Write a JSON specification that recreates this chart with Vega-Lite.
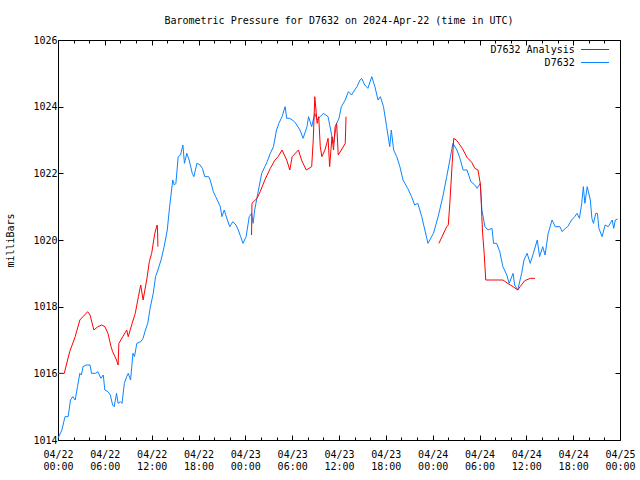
{
  "$schema": "https://vega.github.io/schema/vega-lite/v6.json",
  "autosize": "none",
  "width": 562,
  "height": 400,
  "padding": {"left": 58, "top": 40, "right": 20, "bottom": 40},
  "background": "white",
  "config": {
    "font": "DejaVu Sans Mono",
    "view": {"stroke": "black", "strokeWidth": 1},
    "axis": {"domain": false, "grid": false, "labelFont": "DejaVu Sans Mono", "labelFontSize": 10, "labelColor": "black", "tickColor": "black", "titleFont": "DejaVu Sans Mono", "titleFontSize": 10, "titleFontWeight": "normal", "titleColor": "black"}
  },
  "title": {"text": "Barometric Pressure for D7632 on 2024-Apr-22 (time in UTC)", "font": "DejaVu Sans Mono", "fontSize": 10, "fontWeight": "normal", "color": "black", "anchor": "middle", "offset": 9},
  "datasets": {
    "key": [{"s": "D7632 Analysis"}, {"s": "D7632"}],
    "obs": [
      {"s":"D7632","g":0,"h":0,"p":1014.05},{"s":"D7632","g":0,"h":0.5,"p":1014.3},{"s":"D7632","g":0,"h":0.9,"p":1014.7},{"s":"D7632","g":0,"h":1.3,"p":1014.7},{"s":"D7632","g":0,"h":1.6,"p":1015.2},{"s":"D7632","g":0,"h":1.9,"p":1015.3},{"s":"D7632","g":0,"h":2.2,"p":1015.2},{"s":"D7632","g":0,"h":2.5,"p":1015.6},{"s":"D7632","g":0,"h":2.8,"p":1016.0},{"s":"D7632","g":0,"h":3.0,"p":1015.95},{"s":"D7632","g":0,"h":3.2,"p":1016.2},{"s":"D7632","g":0,"h":3.6,"p":1016.25},{"s":"D7632","g":0,"h":4.1,"p":1016.25},{"s":"D7632","g":0,"h":4.3,"p":1016.0},{"s":"D7632","g":0,"h":4.8,"p":1016.0},{"s":"D7632","g":0,"h":5.1,"p":1016.05},{"s":"D7632","g":0,"h":5.5,"p":1015.85},{"s":"D7632","g":0,"h":5.8,"p":1015.95},{"s":"D7632","g":0,"h":6.0,"p":1015.5},{"s":"D7632","g":0,"h":6.4,"p":1015.45},{"s":"D7632","g":0,"h":6.7,"p":1015.35},{"s":"D7632","g":0,"h":7.0,"p":1015.05},{"s":"D7632","g":0,"h":7.2,"p":1015.0},{"s":"D7632","g":0,"h":7.5,"p":1015.4},{"s":"D7632","g":0,"h":7.7,"p":1015.1},{"s":"D7632","g":0,"h":8.0,"p":1015.15},{"s":"D7632","g":0,"h":8.2,"p":1015.1},{"s":"D7632","g":0,"h":8.5,"p":1015.7},{"s":"D7632","g":0,"h":8.8,"p":1015.9},{"s":"D7632","g":0,"h":9.0,"p":1016.0},{"s":"D7632","g":0,"h":9.3,"p":1015.8},{"s":"D7632","g":0,"h":9.6,"p":1016.6},{"s":"D7632","g":0,"h":9.8,"p":1016.5},{"s":"D7632","g":0,"h":10.1,"p":1016.9},{"s":"D7632","g":0,"h":10.6,"p":1016.95},{"s":"D7632","g":0,"h":10.9,"p":1017.05},{"s":"D7632","g":0,"h":11.2,"p":1017.3},{"s":"D7632","g":0,"h":11.5,"p":1017.5},{"s":"D7632","g":0,"h":11.8,"p":1017.95},{"s":"D7632","g":0,"h":12.2,"p":1018.4},{"s":"D7632","g":0,"h":12.5,"p":1018.9},{"s":"D7632","g":0,"h":12.8,"p":1019.1},{"s":"D7632","g":0,"h":13.2,"p":1019.4},{"s":"D7632","g":0,"h":13.6,"p":1019.8},{"s":"D7632","g":0,"h":14.0,"p":1020.3},{"s":"D7632","g":0,"h":14.3,"p":1021.0},{"s":"D7632","g":0,"h":14.7,"p":1021.8},{"s":"D7632","g":0,"h":14.9,"p":1021.65},{"s":"D7632","g":0,"h":15.1,"p":1021.7},{"s":"D7632","g":0,"h":15.4,"p":1022.5},{"s":"D7632","g":0,"h":15.7,"p":1022.55},{"s":"D7632","g":0,"h":15.9,"p":1022.75},{"s":"D7632","g":0,"h":16.0,"p":1022.85},{"s":"D7632","g":0,"h":16.2,"p":1022.3},{"s":"D7632","g":0,"h":16.5,"p":1022.6},{"s":"D7632","g":0,"h":16.8,"p":1022.4},{"s":"D7632","g":0,"h":17.2,"p":1022.0},{"s":"D7632","g":0,"h":17.4,"p":1021.9},{"s":"D7632","g":0,"h":17.8,"p":1022.3},{"s":"D7632","g":0,"h":18.2,"p":1022.25},{"s":"D7632","g":0,"h":18.5,"p":1022.15},{"s":"D7632","g":0,"h":18.8,"p":1021.9},{"s":"D7632","g":0,"h":19.3,"p":1021.9},{"s":"D7632","g":0,"h":19.5,"p":1021.8},{"s":"D7632","g":0,"h":19.9,"p":1021.45},{"s":"D7632","g":0,"h":20.2,"p":1021.3},{"s":"D7632","g":0,"h":20.4,"p":1021.2},{"s":"D7632","g":0,"h":20.8,"p":1021.0},{"s":"D7632","g":0,"h":21.0,"p":1020.7},{"s":"D7632","g":0,"h":21.3,"p":1020.9},{"s":"D7632","g":0,"h":21.7,"p":1020.6},{"s":"D7632","g":0,"h":22.0,"p":1020.4},{"s":"D7632","g":0,"h":22.4,"p":1020.55},{"s":"D7632","g":0,"h":22.8,"p":1020.45},{"s":"D7632","g":0,"h":23.1,"p":1020.3},{"s":"D7632","g":0,"h":23.4,"p":1020.1},{"s":"D7632","g":0,"h":23.7,"p":1019.9},{"s":"D7632","g":0,"h":24.1,"p":1020.1},{"s":"D7632","g":0,"h":24.5,"p":1020.7},{"s":"D7632","g":0,"h":24.8,"p":1020.8},{"s":"D7632","g":0,"h":25.0,"p":1020.5},{"s":"D7632","g":0,"h":25.2,"p":1020.9},{"s":"D7632","g":0,"h":25.6,"p":1021.4},{"s":"D7632","g":0,"h":26.1,"p":1022.0},{"s":"D7632","g":0,"h":26.5,"p":1022.2},{"s":"D7632","g":0,"h":26.8,"p":1022.35},{"s":"D7632","g":0,"h":27.2,"p":1022.6},{"s":"D7632","g":0,"h":27.6,"p":1022.8},{"s":"D7632","g":0,"h":28.0,"p":1023.3},{"s":"D7632","g":0,"h":28.3,"p":1023.5},{"s":"D7632","g":0,"h":28.7,"p":1023.7},{"s":"D7632","g":0,"h":29.1,"p":1024.0},{"s":"D7632","g":0,"h":29.3,"p":1023.65},{"s":"D7632","g":0,"h":29.7,"p":1023.65},{"s":"D7632","g":0,"h":30.0,"p":1023.6},{"s":"D7632","g":0,"h":30.3,"p":1023.55},{"s":"D7632","g":0,"h":30.6,"p":1023.45},{"s":"D7632","g":0,"h":31.0,"p":1023.3},{"s":"D7632","g":0,"h":31.4,"p":1023.05},{"s":"D7632","g":0,"h":31.9,"p":1023.4},{"s":"D7632","g":0,"h":32.1,"p":1023.7},{"s":"D7632","g":0,"h":32.5,"p":1023.4},{"s":"D7632","g":0,"h":32.9,"p":1023.8},{"s":"D7632","g":0,"h":33.2,"p":1023.6},{"s":"D7632","g":0,"h":33.6,"p":1023.7},{"s":"D7632","g":0,"h":34.0,"p":1023.8},{"s":"D7632","g":0,"h":34.6,"p":1023.7},{"s":"D7632","g":0,"h":35.1,"p":1023.1},{"s":"D7632","g":0,"h":35.3,"p":1022.9},{"s":"D7632","g":0,"h":35.7,"p":1023.5},{"s":"D7632","g":0,"h":36.0,"p":1023.65},{"s":"D7632","g":0,"h":36.3,"p":1024.0},{"s":"D7632","g":0,"h":36.8,"p":1024.2},{"s":"D7632","g":0,"h":37.2,"p":1024.45},{"s":"D7632","g":0,"h":37.6,"p":1024.35},{"s":"D7632","g":0,"h":38.0,"p":1024.5},{"s":"D7632","g":0,"h":38.3,"p":1024.6},{"s":"D7632","g":0,"h":38.7,"p":1024.8},{"s":"D7632","g":0,"h":38.9,"p":1024.85},{"s":"D7632","g":0,"h":39.3,"p":1024.65},{"s":"D7632","g":0,"h":39.7,"p":1024.55},{"s":"D7632","g":0,"h":40.2,"p":1024.9},{"s":"D7632","g":0,"h":40.6,"p":1024.6},{"s":"D7632","g":0,"h":41.0,"p":1024.2},{"s":"D7632","g":0,"h":41.3,"p":1024.3},{"s":"D7632","g":0,"h":41.7,"p":1024.0},{"s":"D7632","g":0,"h":42.1,"p":1023.4},{"s":"D7632","g":0,"h":42.5,"p":1022.8},{"s":"D7632","g":0,"h":42.7,"p":1023.3},{"s":"D7632","g":0,"h":43.0,"p":1022.7},{"s":"D7632","g":0,"h":43.4,"p":1022.5},{"s":"D7632","g":0,"h":43.8,"p":1022.2},{"s":"D7632","g":0,"h":44.2,"p":1021.8},{"s":"D7632","g":0,"h":44.8,"p":1021.55},{"s":"D7632","g":0,"h":45.3,"p":1021.3},{"s":"D7632","g":0,"h":45.7,"p":1021.05},{"s":"D7632","g":0,"h":46.1,"p":1021.1},{"s":"D7632","g":0,"h":46.6,"p":1020.7},{"s":"D7632","g":0,"h":47.0,"p":1020.3},{"s":"D7632","g":0,"h":47.4,"p":1019.9},{"s":"D7632","g":0,"h":48.1,"p":1020.2},{"s":"D7632","g":0,"h":48.7,"p":1020.7},{"s":"D7632","g":0,"h":49.3,"p":1021.3},{"s":"D7632","g":0,"h":49.8,"p":1021.9},{"s":"D7632","g":0,"h":50.2,"p":1022.4},{"s":"D7632","g":0,"h":50.6,"p":1022.9},{"s":"D7632","g":0,"h":51.1,"p":1022.7},{"s":"D7632","g":0,"h":51.5,"p":1022.45},{"s":"D7632","g":0,"h":51.9,"p":1022.1},{"s":"D7632","g":0,"h":52.4,"p":1022.1},{"s":"D7632","g":0,"h":52.9,"p":1021.75},{"s":"D7632","g":0,"h":53.4,"p":1021.65},{"s":"D7632","g":0,"h":53.7,"p":1021.55},{"s":"D7632","g":0,"h":54.1,"p":1021.7},{"s":"D7632","g":0,"h":54.2,"p":1021.3},{"s":"D7632","g":0,"h":54.3,"p":1020.9},{"s":"D7632","g":0,"h":54.7,"p":1020.4},{"s":"D7632","g":0,"h":55.1,"p":1020.3},{"s":"D7632","g":0,"h":55.6,"p":1020.35},{"s":"D7632","g":0,"h":55.8,"p":1019.9},{"s":"D7632","g":0,"h":56.2,"p":1019.9},{"s":"D7632","g":0,"h":56.6,"p":1019.65},{"s":"D7632","g":0,"h":57.0,"p":1019.2},{"s":"D7632","g":0,"h":57.5,"p":1018.95},{"s":"D7632","g":0,"h":57.8,"p":1018.7},{"s":"D7632","g":0,"h":58.3,"p":1019.0},{"s":"D7632","g":0,"h":58.5,"p":1018.65},{"s":"D7632","g":0,"h":58.9,"p":1018.5},{"s":"D7632","g":0,"h":59.4,"p":1019.0},{"s":"D7632","g":0,"h":59.7,"p":1019.4},{"s":"D7632","g":0,"h":60.1,"p":1019.6},{"s":"D7632","g":0,"h":60.5,"p":1019.3},{"s":"D7632","g":0,"h":60.9,"p":1019.6},{"s":"D7632","g":0,"h":61.4,"p":1020.0},{"s":"D7632","g":0,"h":61.7,"p":1019.5},{"s":"D7632","g":0,"h":62.1,"p":1019.8},{"s":"D7632","g":0,"h":62.4,"p":1019.55},{"s":"D7632","g":0,"h":62.8,"p":1020.2},{"s":"D7632","g":0,"h":63.3,"p":1020.6},{"s":"D7632","g":0,"h":63.7,"p":1020.4},{"s":"D7632","g":0,"h":64.3,"p":1020.4},{"s":"D7632","g":0,"h":64.6,"p":1020.25},{"s":"D7632","g":0,"h":65.0,"p":1020.35},{"s":"D7632","g":0,"h":65.3,"p":1020.4},{"s":"D7632","g":0,"h":65.8,"p":1020.6},{"s":"D7632","g":0,"h":66.2,"p":1020.7},{"s":"D7632","g":0,"h":66.5,"p":1020.8},{"s":"D7632","g":0,"h":66.8,"p":1020.65},{"s":"D7632","g":0,"h":67.1,"p":1021.1},{"s":"D7632","g":0,"h":67.3,"p":1021.6},{"s":"D7632","g":0,"h":67.5,"p":1021.1},{"s":"D7632","g":0,"h":67.8,"p":1021.6},{"s":"D7632","g":0,"h":68.2,"p":1021.2},{"s":"D7632","g":0,"h":68.4,"p":1020.65},{"s":"D7632","g":0,"h":68.6,"p":1020.5},{"s":"D7632","g":0,"h":68.9,"p":1020.8},{"s":"D7632","g":0,"h":69.1,"p":1020.8},{"s":"D7632","g":0,"h":69.3,"p":1020.35},{"s":"D7632","g":0,"h":69.7,"p":1020.1},{"s":"D7632","g":0,"h":70.1,"p":1020.45},{"s":"D7632","g":0,"h":70.5,"p":1020.4},{"s":"D7632","g":0,"h":71.0,"p":1020.6},{"s":"D7632","g":0,"h":71.2,"p":1020.35},{"s":"D7632","g":0,"h":71.4,"p":1020.6},{"s":"D7632","g":0,"h":71.7,"p":1020.63},
      {"s":"D7632 Analysis","g":1,"h":0,"p":1016.0},{"s":"D7632 Analysis","g":1,"h":0.8,"p":1016.0},{"s":"D7632 Analysis","g":1,"h":1.5,"p":1016.65},{"s":"D7632 Analysis","g":1,"h":2.2,"p":1017.1},{"s":"D7632 Analysis","g":1,"h":2.8,"p":1017.6},{"s":"D7632 Analysis","g":1,"h":3.2,"p":1017.7},{"s":"D7632 Analysis","g":1,"h":3.8,"p":1017.85},{"s":"D7632 Analysis","g":1,"h":4.1,"p":1017.75},{"s":"D7632 Analysis","g":1,"h":4.6,"p":1017.3},{"s":"D7632 Analysis","g":1,"h":5.1,"p":1017.4},{"s":"D7632 Analysis","g":1,"h":5.6,"p":1017.45},{"s":"D7632 Analysis","g":1,"h":6.0,"p":1017.4},{"s":"D7632 Analysis","g":1,"h":6.4,"p":1017.2},{"s":"D7632 Analysis","g":1,"h":6.8,"p":1016.8},{"s":"D7632 Analysis","g":1,"h":7.0,"p":1016.65},{"s":"D7632 Analysis","g":1,"h":7.5,"p":1016.4},{"s":"D7632 Analysis","g":1,"h":7.7,"p":1016.25},{"s":"D7632 Analysis","g":1,"h":7.8,"p":1016.9},{"s":"D7632 Analysis","g":1,"h":8.3,"p":1017.1},{"s":"D7632 Analysis","g":1,"h":8.8,"p":1017.3},{"s":"D7632 Analysis","g":1,"h":9.0,"p":1017.1},{"s":"D7632 Analysis","g":1,"h":9.5,"p":1017.5},{"s":"D7632 Analysis","g":1,"h":9.9,"p":1017.8},{"s":"D7632 Analysis","g":1,"h":10.3,"p":1018.3},{"s":"D7632 Analysis","g":1,"h":10.6,"p":1018.65},{"s":"D7632 Analysis","g":1,"h":10.9,"p":1018.2},{"s":"D7632 Analysis","g":1,"h":11.4,"p":1018.85},{"s":"D7632 Analysis","g":1,"h":11.7,"p":1019.35},{"s":"D7632 Analysis","g":1,"h":12.0,"p":1019.6},{"s":"D7632 Analysis","g":1,"h":12.4,"p":1020.2},{"s":"D7632 Analysis","g":1,"h":12.7,"p":1020.45},{"s":"D7632 Analysis","g":1,"h":12.75,"p":1020.3},{"s":"D7632 Analysis","g":1,"h":12.8,"p":1019.8},
      {"s":"D7632 Analysis","g":2,"h":24.8,"p":1020.15},{"s":"D7632 Analysis","g":2,"h":24.85,"p":1021.1},{"s":"D7632 Analysis","g":2,"h":25.5,"p":1021.25},{"s":"D7632 Analysis","g":2,"h":25.9,"p":1021.45},{"s":"D7632 Analysis","g":2,"h":26.5,"p":1021.8},{"s":"D7632 Analysis","g":2,"h":27.2,"p":1022.15},{"s":"D7632 Analysis","g":2,"h":27.8,"p":1022.4},{"s":"D7632 Analysis","g":2,"h":28.2,"p":1022.5},{"s":"D7632 Analysis","g":2,"h":28.7,"p":1022.7},{"s":"D7632 Analysis","g":2,"h":29.3,"p":1022.4},{"s":"D7632 Analysis","g":2,"h":29.7,"p":1022.1},{"s":"D7632 Analysis","g":2,"h":30.0,"p":1022.5},{"s":"D7632 Analysis","g":2,"h":30.8,"p":1022.7},{"s":"D7632 Analysis","g":2,"h":31.2,"p":1022.4},{"s":"D7632 Analysis","g":2,"h":31.8,"p":1022.1},{"s":"D7632 Analysis","g":2,"h":32.5,"p":1022.2},{"s":"D7632 Analysis","g":2,"h":32.7,"p":1023.0},{"s":"D7632 Analysis","g":2,"h":32.9,"p":1024.3},{"s":"D7632 Analysis","g":2,"h":33.2,"p":1023.5},{"s":"D7632 Analysis","g":2,"h":33.4,"p":1023.7},{"s":"D7632 Analysis","g":2,"h":33.6,"p":1022.8},{"s":"D7632 Analysis","g":2,"h":33.8,"p":1022.5},{"s":"D7632 Analysis","g":2,"h":34.2,"p":1022.7},{"s":"D7632 Analysis","g":2,"h":34.6,"p":1023.05},{"s":"D7632 Analysis","g":2,"h":34.8,"p":1022.2},{"s":"D7632 Analysis","g":2,"h":35.1,"p":1023.1},{"s":"D7632 Analysis","g":2,"h":35.3,"p":1022.7},{"s":"D7632 Analysis","g":2,"h":35.5,"p":1023.4},{"s":"D7632 Analysis","g":2,"h":35.7,"p":1023.5},{"s":"D7632 Analysis","g":2,"h":35.9,"p":1022.55},{"s":"D7632 Analysis","g":2,"h":36.3,"p":1022.7},{"s":"D7632 Analysis","g":2,"h":36.8,"p":1022.9},{"s":"D7632 Analysis","g":2,"h":36.9,"p":1023.7},
      {"s":"D7632 Analysis","g":3,"h":48.8,"p":1019.9},{"s":"D7632 Analysis","g":3,"h":49.3,"p":1020.15},{"s":"D7632 Analysis","g":3,"h":49.8,"p":1020.4},{"s":"D7632 Analysis","g":3,"h":50.0,"p":1020.45},{"s":"D7632 Analysis","g":3,"h":50.2,"p":1021.1},{"s":"D7632 Analysis","g":3,"h":50.5,"p":1022.3},{"s":"D7632 Analysis","g":3,"h":50.7,"p":1023.05},{"s":"D7632 Analysis","g":3,"h":51.1,"p":1022.98},{"s":"D7632 Analysis","g":3,"h":51.8,"p":1022.75},{"s":"D7632 Analysis","g":3,"h":52.4,"p":1022.48},{"s":"D7632 Analysis","g":3,"h":53.0,"p":1022.33},{"s":"D7632 Analysis","g":3,"h":53.4,"p":1022.15},{"s":"D7632 Analysis","g":3,"h":53.8,"p":1022.1},{"s":"D7632 Analysis","g":3,"h":54.1,"p":1021.7},{"s":"D7632 Analysis","g":3,"h":54.2,"p":1021.3},{"s":"D7632 Analysis","g":3,"h":54.3,"p":1020.7},{"s":"D7632 Analysis","g":3,"h":54.4,"p":1020.2},{"s":"D7632 Analysis","g":3,"h":54.6,"p":1019.6},{"s":"D7632 Analysis","g":3,"h":54.8,"p":1018.8},{"s":"D7632 Analysis","g":3,"h":55.3,"p":1018.8},{"s":"D7632 Analysis","g":3,"h":57.0,"p":1018.8},{"s":"D7632 Analysis","g":3,"h":57.6,"p":1018.7},{"s":"D7632 Analysis","g":3,"h":58.3,"p":1018.6},{"s":"D7632 Analysis","g":3,"h":58.9,"p":1018.5},{"s":"D7632 Analysis","g":3,"h":59.2,"p":1018.6},{"s":"D7632 Analysis","g":3,"h":59.8,"p":1018.78},{"s":"D7632 Analysis","g":3,"h":60.5,"p":1018.85},{"s":"D7632 Analysis","g":3,"h":61.1,"p":1018.85}
    ]
  },
  "resolve": {"scale": {"y": "independent"}, "axis": {"x": "independent", "y": "independent"}},
  "layer": [
    {
      "data": {"name": "obs"},
      "resolve": {"axis": {"x": "independent", "y": "independent"}},
      "layer": [
        {
          "mark": {"type": "line", "strokeWidth": 1, "interpolate": "linear"},
          "encoding": {
            "x": {"field": "h", "type": "quantitative", "scale": {"domain": [0, 72], "nice": false, "zero": false},
              "axis": {"orient": "bottom", "values": [0, 6, 12, 18, 24, 30, 36, 42, 48, 54, 60, 66, 72], "tickSize": -5, "labelPadding": 14, "labelLineHeight": 12, "labelBaseline": "top", "labelFlush": false, "labelOverlap": false, "title": null,
                "labelExpr": "['04/' + (22 + floor(datum.value / 24)), (datum.value % 24 < 10 ? '0' : '') + (datum.value % 24) + ':00']"}},
            "y": {"field": "p", "type": "quantitative", "scale": {"domain": [1014, 1026], "nice": false, "zero": false},
              "axis": {"orient": "left", "values": [1014, 1016, 1018, 1020, 1022, 1024, 1026], "tickSize": -5, "labelPadding": 6, "format": "d", "title": "milliBars", "titlePadding": 17, "labelFlush": false}},
            "color": {"field": "s", "type": "nominal", "scale": {"domain": ["D7632 Analysis", "D7632"], "range": ["#ff0000", "#0b84ff"]}, "legend": null},
            "detail": {"field": "g", "type": "nominal"},
            "order": {"field": "h", "type": "quantitative"}
          }
        },
        {
          "transform": [{"filter": "false"}],
          "mark": {"type": "point", "opacity": 0},
          "encoding": {
            "x": {"field": "h", "type": "quantitative", "axis": {"orient": "top", "values": [0, 6, 12, 18, 24, 30, 36, 42, 48, 54, 60, 66, 72], "tickSize": -5, "labels": false, "title": null}},
            "y": {"field": "p", "type": "quantitative", "axis": {"orient": "right", "values": [1014, 1016, 1018, 1020, 1022, 1024, 1026], "tickSize": -5, "labels": false, "title": null}}
          }
        },
        {
          "transform": [{"filter": "false"}],
          "mark": {"type": "point", "opacity": 0},
          "encoding": {
            "x": {"field": "h", "type": "quantitative", "axis": {"orient": "bottom", "values": [2, 4, 8, 10, 14, 16, 20, 22, 26, 28, 32, 34, 38, 40, 44, 46, 50, 52, 56, 58, 62, 64, 68, 70], "tickSize": -3, "labels": false, "title": null}},
            "y": {"field": "p", "type": "quantitative", "axis": null}
          }
        },
        {
          "transform": [{"filter": "false"}],
          "mark": {"type": "point", "opacity": 0},
          "encoding": {
            "x": {"field": "h", "type": "quantitative", "axis": {"orient": "top", "values": [2, 4, 8, 10, 14, 16, 20, 22, 26, 28, 32, 34, 38, 40, 44, 46, 50, 52, 56, 58, 62, 64, 68, 70], "tickSize": -3, "labels": false, "title": null}},
            "y": {"field": "p", "type": "quantitative", "axis": null}
          }
        }
      ]
    },
    {
      "data": {"name": "key"},
      "layer": [
        {
          "mark": {"type": "text", "align": "right", "baseline": "middle", "font": "DejaVu Sans Mono", "fontSize": 10, "color": "black"},
          "encoding": {
            "x": {"datum": 66.2, "type": "quantitative", "scale": {"domain": [0, 72], "nice": false, "zero": false}, "axis": null},
            "y": {"field": "s", "type": "nominal", "scale": {"type": "point", "domain": ["D7632 Analysis", "D7632"], "range": [9.5, 22.5], "padding": 0}, "axis": null},
            "text": {"field": "s", "type": "nominal"}
          }
        },
        {
          "mark": {"type": "rule", "strokeWidth": 1},
          "encoding": {
            "x": {"datum": 67.0, "type": "quantitative", "scale": {"domain": [0, 72], "nice": false, "zero": false}, "axis": null},
            "x2": {"datum": 70.6},
            "y": {"field": "s", "type": "nominal", "scale": {"type": "point", "domain": ["D7632 Analysis", "D7632"], "range": [9.5, 22.5], "padding": 0}, "axis": null},
            "color": {"field": "s", "type": "nominal", "scale": {"domain": ["D7632 Analysis", "D7632"], "range": ["#ff0000", "#0b84ff"]}, "legend": null}
          }
        }
      ]
    }
  ]
}
